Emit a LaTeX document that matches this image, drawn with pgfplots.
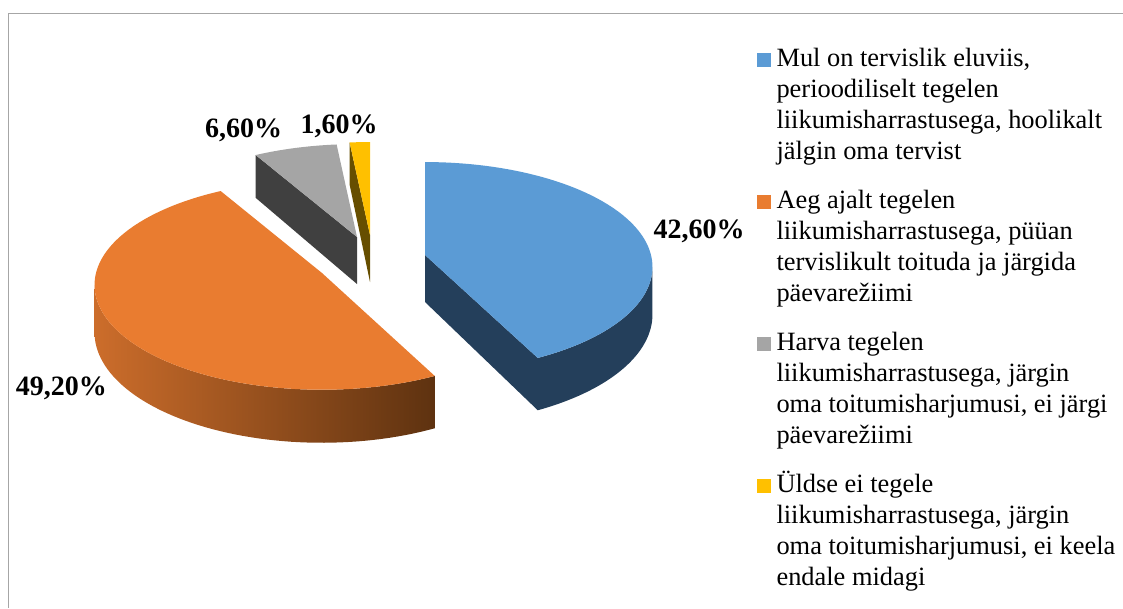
\documentclass[border=0pt]{standalone}
\usepackage{pgfplots}
\pgfplotsset{compat=1.18}
\usepackage{pgfplotstable}
\usepackage{fontspec}
\setmainfont{Liberation Serif}

\definecolor{cBlue}{HTML}{5B9BD5}
\definecolor{cBlueS}{HTML}{243F5B}
\definecolor{cOrange}{HTML}{E97C30}
\definecolor{cOrangeL}{HTML}{CC6D2B}
\definecolor{cOrangeR}{HTML}{5E3210}
\definecolor{cGray}{HTML}{A5A5A5}
\definecolor{cGrayS}{HTML}{404040}
\definecolor{cYellow}{HTML}{FFC000}
\definecolor{cYellowS}{HTML}{664E00}
\definecolor{cFrame}{HTML}{A6A6A6}

\pgfplotstableread{
label share
A 42.6
B 49.2
C 6.6
D 1.6
}\piedata
\pgfplotstablegetelem{0}{share}\of\piedata \let\vA\pgfplotsretval
\pgfplotstablegetelem{1}{share}\of\piedata \let\vB\pgfplotsretval
\pgfplotstablegetelem{2}{share}\of\piedata \let\vC\pgfplotsretval
\pgfplotstablegetelem{3}{share}\of\piedata \let\vD\pgfplotsretval
\pgfmathsetmacro\sA{90}
\pgfmathsetmacro\eA{\sA-3.6*\vA}
\pgfmathsetmacro\sB{\eA}
\pgfmathsetmacro\eB{\sB-3.6*\vB}
\pgfmathsetmacro\sC{\eB}
\pgfmathsetmacro\eC{\sC-3.6*\vC}
\pgfmathsetmacro\sD{\eC}
\pgfmathsetmacro\eD{\sD-3.6*\vD}
\pgfmathsetmacro\visR{-asin(0.1134)}
\pgfmathsetmacro\visL{-180+asin(0.1134)}
% exploded centres (pixels)
\def\cxA{425}\def\cyA{255}
\def\cxB{322}\def\cyB{273}
\def\cxC{357}\def\cyC{237}
\def\cxD{370}\def\cyD{235}
\def\dep{47}

\begin{document}
\begin{tikzpicture}[declare function={wf(\t)=1+0.1134*sin(\t); px(\t)=226*cos(\t)/wf(\t); py(\t)=-103.5*sin(\t)/wf(\t); dp(\t)=47/wf(\t);}]
\begin{axis}[
  scale only axis, width=842.25pt, height=456pt,
  xmin=0, xmax=1123, ymin=0, ymax=608, y dir=reverse,
  hide axis, clip=false,
  legend style={at={(axis cs:757,45)}, anchor=north west, draw=none, fill=none,
    inner sep=0pt, outer sep=0pt, row sep=0pt, column sep=4.5pt,
    font=\fontsize{19.8}{23.25}\selectfont,
    nodes={inner sep=0pt, outer sep=0pt, text height=16.3pt, text depth=90.2pt}},
  legend cell align=left,
]
% frame
\draw[cFrame, line width=0.75pt] (axis cs:8,608) -- (axis cs:8,13) -- (axis cs:1123,13);

% ---- gray slice (C)
\fill[cGrayS] (axis cs:\cxC,\cyC) -- ({\cxC+px(\sC)},{\cyC+py(\sC)}) -- ({\cxC+px(\sC)},{\cyC+py(\sC)+dp(\sC)}) -- (\cxC,{\cyC+\dep}) -- cycle;
\fill[cGray] (axis cs:\cxC,\cyC) -- plot[domain=\eC:\sC, samples=30, variable=\t] ({\cxC+px(\t)},{\cyC+py(\t)}) -- cycle;
% ---- yellow slice (D)
\fill[cYellowS] (axis cs:\cxD,\cyD) -- ({\cxD+px(\sD)},{\cyD+py(\sD)}) -- ({\cxD+px(\sD)},{\cyD+py(\sD)+dp(\sD)}) -- (\cxD,{\cyD+\dep}) -- cycle;
\fill[cYellow] (axis cs:\cxD,\cyD) -- plot[domain=\eD:\sD, samples=10, variable=\t] ({\cxD+px(\t)},{\cyD+py(\t)}) -- cycle;
% ---- orange slice (B)
\shade[left color=cOrangeL, right color=cOrangeR] plot[domain=\visL:\sB, samples=60, variable=\t] ({\cxB+px(\t)},{\cyB+py(\t)}) -- plot[domain=\sB:\visL, samples=60, variable=\t] ({\cxB+px(\t)},{\cyB+py(\t)+dp(\t)}) -- cycle;
\fill[cOrange] (axis cs:\cxB,\cyB) -- plot[domain=\eB:\sB, samples=120, variable=\t] ({\cxB+px(\t)},{\cyB+py(\t)}) -- cycle;
% ---- blue slice (A)
\fill[cBlueS] (axis cs:\cxA,\cyA) -- ({\cxA+px(\eA)},{\cyA+py(\eA)}) -- ({\cxA+px(\eA)},{\cyA+py(\eA)+dp(\eA)}) -- (\cxA,{\cyA+\dep}) -- cycle;
\fill[cBlueS] plot[domain=\eA:\visR, samples=50, variable=\t] ({\cxA+px(\t)},{\cyA+py(\t)}) -- plot[domain=\visR:\eA, samples=50, variable=\t] ({\cxA+px(\t)},{\cyA+py(\t)+dp(\t)}) -- cycle;
\fill[cBlue] (axis cs:\cxA,\cyA) -- plot[domain=\eA:\sA, samples=100, variable=\t] ({\cxA+px(\t)},{\cyA+py(\t)}) -- cycle;

% data labels
\node[anchor=base, font=\fontsize{21}{25}\selectfont\bfseries, inner sep=0pt] at (axis cs:699,238) {42,60\%};
\node[anchor=base, font=\fontsize{21}{25}\selectfont\bfseries, inner sep=0pt] at (axis cs:61.5,395) {49,20\%};
\node[anchor=base, font=\fontsize{21}{25}\selectfont\bfseries, inner sep=0pt] at (axis cs:243.5,137.7) {6,60\%};
\node[anchor=base, font=\fontsize{21}{25}\selectfont\bfseries, inner sep=0pt] at (axis cs:339,133.3) {1,60\%};

% legend
\addlegendimage{legend image code/.code={\fill[cBlue] (0pt,37.35pt) rectangle (9.75pt,47.15pt);}}
\addlegendentry{\parbox[t]{258pt}{\strut Mul on tervislik eluviis,\\perioodiliselt tegelen\\liikumisharrastusega, hoolikalt\\jälgin oma tervist}}
\addlegendimage{legend image code/.code={\fill[cOrange] (0pt,37.35pt) rectangle (9.75pt,47.15pt);}}
\addlegendentry{\parbox[t]{258pt}{\strut Aeg ajalt tegelen\\liikumisharrastusega, püüan\\tervislikult toituda ja järgida\\päevarežiimi}}
\addlegendimage{legend image code/.code={\fill[cGray] (0pt,37.35pt) rectangle (9.75pt,47.15pt);}}
\addlegendentry{\parbox[t]{258pt}{\strut Harva tegelen\\liikumisharrastusega, järgin\\oma toitumisharjumusi, ei järgi\\päevarežiimi}}
\addlegendimage{legend image code/.code={\fill[cYellow] (0pt,37.35pt) rectangle (9.75pt,47.15pt);}}
\addlegendentry{\parbox[t]{258pt}{\strut Üldse ei tegele\\liikumisharrastusega, järgin\\oma toitumisharjumusi, ei keela\\endale midagi}}
\end{axis}
\pgfresetboundingbox
\useasboundingbox (current axis.south west) rectangle (current axis.north east);
\end{tikzpicture}
\end{document}
